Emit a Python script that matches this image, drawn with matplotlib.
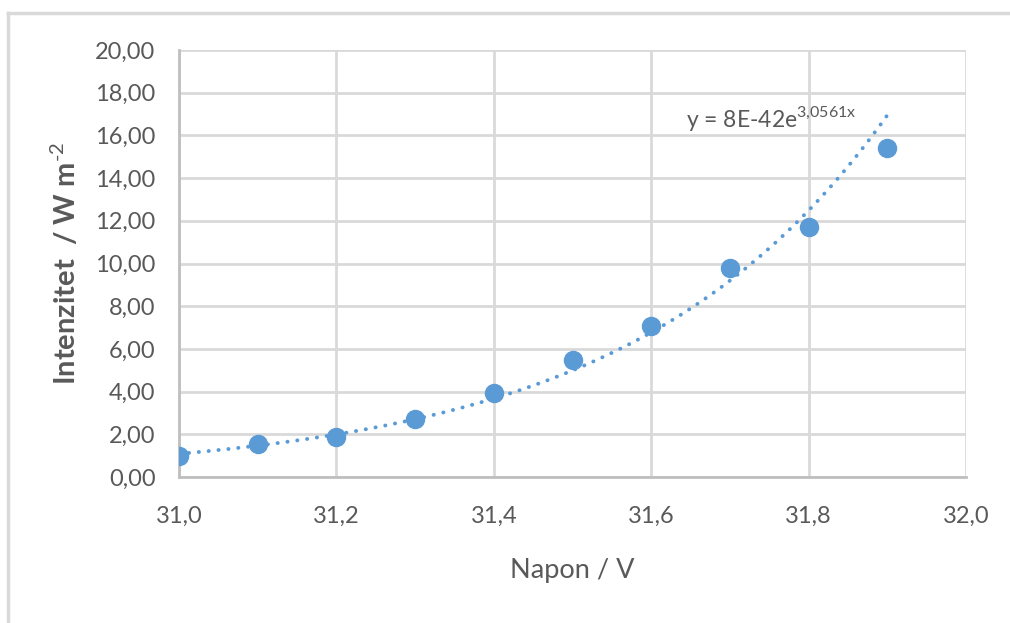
import numpy as np
import matplotlib
matplotlib.use('Agg')
import matplotlib.pyplot as plt
from matplotlib.lines import Line2D
from matplotlib.ticker import FuncFormatter

plt.rcParams['font.family'] = ['Lato', 'DejaVu Sans']
plt.rcParams['mathtext.fontset'] = 'custom'
plt.rcParams['mathtext.rm'] = 'Lato'
plt.rcParams['mathtext.bf'] = 'Lato:bold'

# measured values
napon = [31.0, 31.1, 31.2, 31.3, 31.4, 31.5, 31.6, 31.7, 31.8, 31.9]
intenzitet = [0.98, 1.55, 1.87, 2.72, 3.93, 5.48, 7.07, 9.79, 11.71, 15.41]

x_ticks = [31.0, 31.2, 31.4, 31.6, 31.8, 32.0]
y_ticks = [0, 2, 4, 6, 8, 10, 12, 14, 16, 18, 20]

blue = '#5B9BD5'
grey_txt = '#595959'
grid_c = '#D9D9D9'

# exponential trendline (fit of ln y on x, like Excel)
xa = np.array(napon)
ya = np.array(intenzitet)
b, lna = np.polyfit(xa, np.log(ya), 1)
xf = np.linspace(xa[0], xa[-1], 200)
yf = np.exp(lna) * np.exp(b * xf)

fig = plt.figure(figsize=(10.1, 6.23), dpi=100)
ax = fig.add_axes([179/1010, 1 - 477/623, (966-179)/1010, (477-50)/623])

ax.plot(xf, yf, linestyle=(0, (0.05, 2.5)), dash_capstyle='round',
        color=blue, lw=2.8, zorder=3)
ax.plot(xa, ya, 'o', color=blue, markersize=13, zorder=4)

ax.set_xlim(31.0, 32.0)
ax.set_ylim(0, 20)
ax.set_xticks(x_ticks)
ax.set_yticks(y_ticks)
ax.xaxis.set_major_formatter(FuncFormatter(lambda v, p: ('%.1f' % v).replace('.', ',')))
ax.yaxis.set_major_formatter(FuncFormatter(lambda v, p: ('%.2f' % v).replace('.', ',')))
ax.grid(True, color=grid_c, lw=2)
ax.set_axisbelow(True)
ax.tick_params(length=0, labelsize=17, labelcolor=grey_txt)
ax.tick_params(axis='y', pad=17)
ax.tick_params(axis='x', pad=21)

for s in ['top', 'right']:
    ax.spines[s].set_visible(False)
for s in ['left', 'bottom']:
    ax.spines[s].set_color('#BFBFBF')
    ax.spines[s].set_linewidth(2)

ax.set_xlabel('Napon / V', fontsize=19.5, color=grey_txt, labelpad=22)
ax.set_ylabel(r'Intenzitet  / W m$^{\text{-2}}$', fontsize=21,
              color=grey_txt, fontweight='bold', labelpad=10)

ax.text(31.644, 16.8, r'y = 8E-42e$^{\text{3,0561x}}$',
        fontsize=16.5, color=grey_txt, ha='left', va='center')

# outer chart frame
fig.add_artist(Line2D([8/1010, 8/1010], [0, 1 - 13/623], color=grid_c, lw=2.5))
fig.add_artist(Line2D([8/1010, 1], [1 - 13/623, 1 - 13/623], color=grid_c, lw=2.5))

fig.savefig('out.png', dpi=100)
